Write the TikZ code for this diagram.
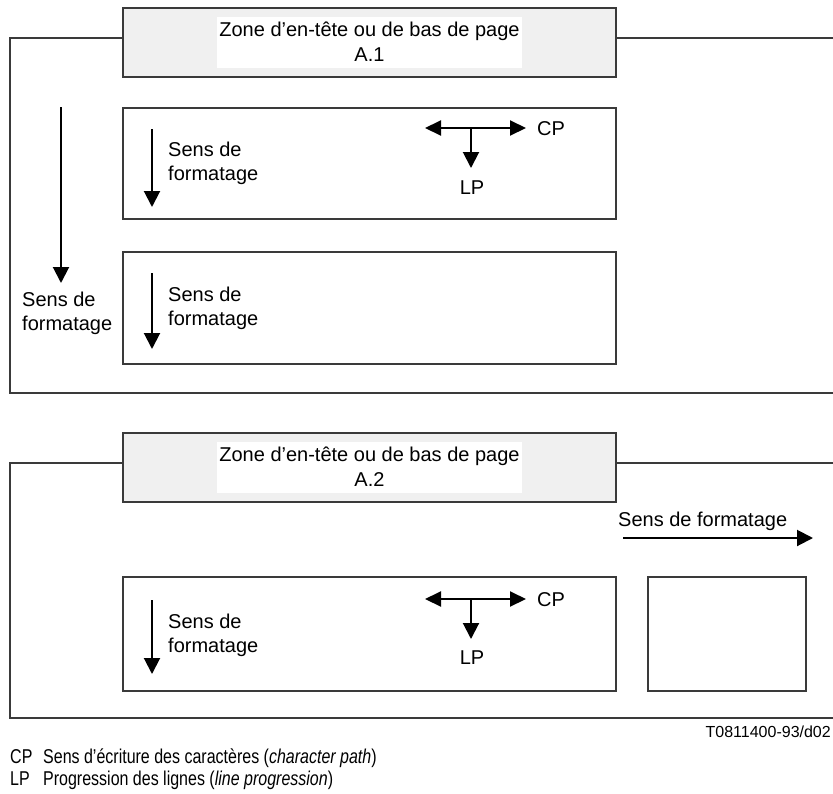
\documentclass[tikz,border=0pt]{standalone}
\usepackage{fontspec}
\setmainfont{Liberation Sans}
\newfontfamily\narrowfont[FakeStretch=0.8]{Liberation Sans}
\usetikzlibrary{arrows.meta}
\definecolor{framegray}{HTML}{3A3A3A}
\definecolor{hdrgray}{HTML}{F0F0F0}

\begin{document}
\begin{tikzpicture}[x=1pt,y=-1pt,
  font=\fontsize{20}{24}\selectfont,
  frame/.style={draw=framegray, line width=1.4pt},
  hdrbox/.style={draw=framegray, line width=1.5pt, fill=hdrgray,
    minimum width=493pt, minimum height=69pt, inner sep=0pt, anchor=north west},
  hdrtext/.style={fill=white, minimum width=305pt, minimum height=51pt,
    align=center, inner sep=0pt, font=\fontsize{20}{25}\selectfont},
  areabox/.style={draw=framegray, line width=1.5pt, fill=white, inner sep=0pt,
    anchor=north west},
  txt/.style={inner sep=0pt, align=left, anchor=base west},
  flow/.style={line width=2pt, -{Triangle[length=16pt,width=16pt]}},
  cpflow/.style={line width=2pt, {Triangle[length=16pt,width=15pt]}-{Triangle[length=16pt,width=15pt]}},
  legend/.style={inner sep=0pt, anchor=base west, font=\narrowfont\fontsize{20}{22}\selectfont},
]
\useasboundingbox (0,0) rectangle (833,793);

% ---------- upper page: area A.1 ----------
\draw[frame] (122,38) -- (10,38) -- (10,393) -- (833,393);
\draw[frame] (615,38) -- (833,38);
\node[hdrbox] (hdrA) at (122,7) {};
\node[hdrtext] (hdrAtxt) at (369.5,42) {Zone d’en-tête ou de bas de page\\A.1};

\node[areabox, minimum width=493pt, minimum height=111pt] (boxA1) at (122,107) {};
\node[areabox, minimum width=493pt, minimum height=112pt] (boxA2) at (122,251) {};

% overall formatting direction (multi-line labels are placed by their last baseline)
\coordinate (fmtA) at (61,107);
\coordinate (fmtAend) at (61,283);
\draw[flow] (fmtA) -- (fmtAend);
\node[txt] (fmtAlbl) at (22,330) {Sens de\\formatage};

% first block
\coordinate (fA1) at (152,129);
\coordinate (fA1end) at (152,207);
\draw[flow] (fA1) -- (fA1end);
\node[txt] (fA1lbl) at (168,180) {Sens de\\formatage};

\coordinate (cpAl) at (425,128);
\coordinate (cpAr) at (526,128);
\coordinate (cpAm) at (471,128);
\coordinate (lpAend) at (471,168);
\draw[cpflow] (cpAl) -- (cpAr);
\draw[flow] (cpAm) -- (lpAend);
\node[txt] (cpA) at (537,135) {CP};
\node[inner sep=0pt, anchor=base] (lpA) at (472,194) {LP};

% second block
\coordinate (fA2) at (152,273);
\coordinate (fA2end) at (152,349);
\draw[flow] (fA2) -- (fA2end);
\node[txt] (fA2lbl) at (168,325) {Sens de\\formatage};

% ---------- lower page: area A.2 ----------
\draw[frame] (122,463) -- (10,463) -- (10,718) -- (833,718);
\draw[frame] (615,463) -- (833,463);
\node[hdrbox] (hdrB) at (122,432) {};
\node[hdrtext] (hdrBtxt) at (369.5,467) {Zone d'en-tête ou de bas de page\\A.2};

\node[txt] (fmtBlbl) at (618,526) {Sens de formatage};
\coordinate (fmtB) at (623,538);
\coordinate (fmtBend) at (813,538);
\draw[flow] (fmtB) -- (fmtBend);

\node[areabox, minimum width=493pt, minimum height=114pt] (boxB1) at (122,576) {};
\node[areabox, minimum width=158pt, minimum height=114pt] (boxB2) at (647,576) {};

\coordinate (fB1) at (152,600);
\coordinate (fB1end) at (152,674);
\draw[flow] (fB1) -- (fB1end);
\node[txt] (fB1lbl) at (168,652) {Sens de\\formatage};

\coordinate (cpBl) at (425,599);
\coordinate (cpBr) at (526,599);
\coordinate (cpBm) at (471,599);
\coordinate (lpBend) at (471,639);
\draw[cpflow] (cpBl) -- (cpBr);
\draw[flow] (cpBm) -- (lpBend);
\node[txt] (cpB) at (537,606) {CP};
\node[inner sep=0pt, anchor=base] (lpB) at (472,664) {LP};

% ---------- reference and legend ----------
\node[inner sep=0pt, anchor=base east, font=\fontsize{16}{18}\selectfont] (ref) at (831,737) {T0811400-93/d02};

\node[legend] (lgCP) at (10,763) {CP};
\node[legend] (lgCPtxt) at (43,763) {Sens d’écriture des caractères (\textit{character path})};
\node[legend] (lgLP) at (10,785) {LP};
\node[legend] (lgLPtxt) at (43,785) {Progression des lignes (\textit{line progression})};
\end{tikzpicture}
\end{document}
